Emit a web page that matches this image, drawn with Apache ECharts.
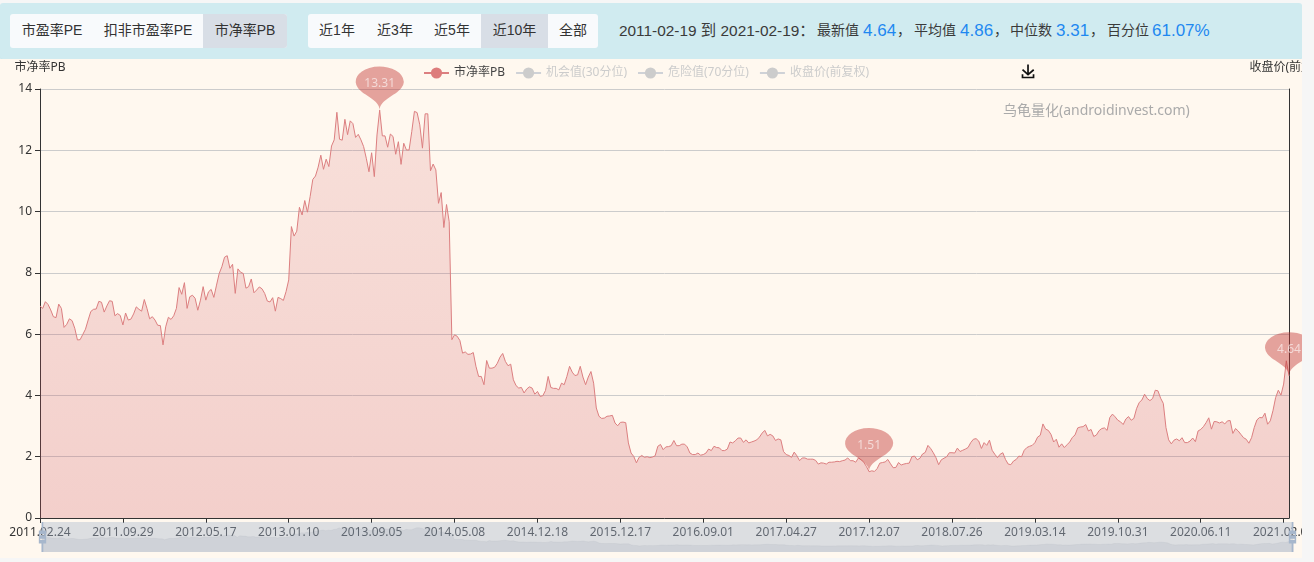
<!DOCTYPE html>
<html><head><meta charset="utf-8">
<script src="https://cdn.jsdelivr.net/npm/echarts@6/dist/echarts.min.js"></script>
<style>
html,body{margin:0;padding:0;background:#f6f6f6;width:1314px;height:562px;overflow:hidden;font-family:"Liberation Sans","Noto Sans CJK SC",sans-serif;color:#333}
#head{position:absolute;left:0;top:3px;width:1302px;height:56px;background:#d0ebf0;border-radius:3px;box-shadow:0 1px 0 #c4e6ec}
.grp{position:absolute;top:11px;height:34px;background:#f8fafc;border-radius:3px;overflow:hidden}
.grp span{position:absolute;top:0;height:34px;line-height:33px;font-size:14px;text-align:center;color:#333}
.grp span.on{background:#d8dee6}
.st{position:absolute;top:0;line-height:55px;font-size:14px;white-space:nowrap;color:#3a3a3a}
.st.d{font-size:15.4px}
.st.n{font-size:17px;color:#1e88f0}
#chart{position:absolute;left:0;top:59px;width:1302px;height:499px;background:#fff8ef}
</style></head><body>
<div id="head">
 <div class="grp" style="left:10px;width:277px">
  <span style="left:0;width:84px">市盈率PE</span><span style="left:80px;width:116px">扣非市盈率PE</span><span class="on" style="left:193px;width:84px">市净率PB</span>
 </div>
 <div class="grp" style="left:308px;width:290px">
  <span style="left:0;width:58px">近1年</span><span style="left:58px;width:58px">近3年</span><span style="left:115px;width:58px">近5年</span><span class="on" style="left:173px;width:67px">近10年</span><span style="left:240px;width:50px">全部</span>
 </div>
 <span class="st d" style="left:619px">2011-02-19 到 2021-02-19：</span>
 <span class="st" style="left:817px">最新值</span><span class="st n" style="left:863px">4.64</span><span class="st" style="left:897px">，</span>
 <span class="st" style="left:914px">平均值</span><span class="st n" style="left:960px">4.86</span><span class="st" style="left:994px">，</span>
 <span class="st" style="left:1010px">中位数</span><span class="st n" style="left:1056px">3.31</span><span class="st" style="left:1090px">，</span>
 <span class="st" style="left:1107px">百分位</span><span class="st n" style="left:1152px">61.07%</span>
</div>
<div id="chart"></div>
<script>
var tickLabels = ['2011.02.24','2011.09.29','2012.05.17','2013.01.10','2013.09.05','2014.05.08','2014.12.18','2015.12.17','2016.09.01','2017.04.27','2017.12.07','2018.07.26','2019.03.14','2019.10.31','2020.06.11','2021.02.04'];
var legendNames = ['市净率PB','机会值(30分位)','危险值(70分位)','收盘价(前复权)'];
var pbValues = [
6.92,6.84,7.06,6.97,6.79,6.57,6.54,6.98,6.84,6.22,6.32,6.5,6.44,6.19,5.81,5.82,5.99,6.16,6.46,6.74,
6.81,6.82,7.07,7.04,6.72,6.92,7.09,7.07,6.6,6.67,6.61,6.3,6.69,6.46,6.49,6.66,6.89,6.81,6.75,7.13,
6.84,6.5,6.57,6.46,6.29,6.28,5.65,6.24,6.55,6.48,6.6,6.84,7.52,7.3,7.68,6.84,7.22,7.27,7.17,6.78,
7.11,7.55,7.11,7.38,7.46,7.2,7.6,7.98,8.2,8.51,8.56,8.15,8.28,7.33,8.13,8.02,7.98,7.5,7.55,7.8,
7.35,7.44,7.54,7.48,7.33,7.08,7.05,7.19,6.75,7.2,7.16,7.1,7.39,7.77,9.51,9.2,9.36,10.14,9.89,10.36,
9.98,10.49,11.05,11.16,11.45,11.84,11.38,11.71,11.47,12.14,12.34,13.24,12.36,12.33,13.01,12.51,12.96,12.87,12.42,12.52,
12.34,12.12,11.74,11.3,11.92,11.14,12.5,13.31,12.47,12.47,12.1,12.53,12.45,11.87,12.28,11.54,12.23,12.01,12.01,12.61,
13.27,13.23,12.83,12.07,13.19,13.19,11.33,11.55,11.36,10.27,10.62,9.48,10.23,9.67,5.82,5.98,5.93,5.79,5.38,5.42,
5.34,5.35,5.4,4.95,4.62,4.62,4.35,5.14,4.89,4.89,4.92,5.05,5.25,5.37,5.11,4.97,5.02,4.51,4.32,4.24,
4.26,4.08,4.21,4.28,4.24,4.04,4.13,3.97,3.99,4.16,4.62,4.26,4.23,4.23,4.18,4.4,4.35,4.62,4.95,4.76,
4.65,4.67,4.95,4.6,4.35,4.6,4.78,4.4,3.59,3.32,3.25,3.26,3.32,3.33,3.35,3.1,3.01,3.12,3.13,3.11,
2.45,2.12,2.01,1.8,1.98,2.04,1.98,2.0,1.97,1.99,2.03,2.34,2.4,2.23,2.32,2.33,2.36,2.53,2.36,2.36,
2.41,2.41,2.32,2.12,2.07,2.07,2.12,2.05,2.07,2.12,2.25,2.2,2.34,2.3,2.29,2.2,2.2,2.25,2.48,2.45,
2.52,2.61,2.61,2.47,2.55,2.45,2.48,2.51,2.55,2.64,2.77,2.86,2.68,2.73,2.68,2.53,2.58,2.55,2.17,2.07,
2.04,1.98,2.15,2.03,1.87,1.96,1.96,1.92,1.92,1.92,1.88,1.76,1.8,1.79,1.76,1.82,1.82,1.83,1.85,1.84,
1.87,1.89,1.96,1.87,1.87,1.82,1.96,1.9,1.82,1.68,1.51,1.54,1.52,1.61,1.79,1.81,1.83,1.91,1.77,1.64,
1.65,1.81,1.73,1.76,1.78,1.79,2.0,2.02,1.9,1.95,2.09,2.14,2.37,2.27,2.13,1.97,1.74,1.9,1.95,2.0,
2.13,2.13,2.12,2.28,2.17,2.21,2.25,2.3,2.46,2.57,2.59,2.51,2.27,2.46,2.37,2.54,2.21,2.08,1.97,2.08,
2.13,1.91,1.76,1.74,1.86,1.91,2.02,2.0,2.21,2.3,2.34,2.37,2.46,2.64,2.7,3.07,2.9,2.86,2.73,2.48,
2.57,2.31,2.42,2.3,2.39,2.48,2.63,2.71,2.94,2.97,2.98,3.05,2.84,2.89,2.66,2.71,2.85,2.92,2.94,2.86,
3.28,3.39,3.3,3.19,3.14,3.05,3.23,3.31,3.19,3.25,3.57,3.77,3.85,4.04,3.9,3.83,3.9,4.17,4.15,3.91,
3.74,2.95,2.55,2.42,2.54,2.58,2.52,2.62,2.46,2.46,2.51,2.61,2.49,2.84,2.89,2.98,3.11,3.27,2.9,3.15,
3.14,3.1,3.14,3.07,3.17,3.18,2.76,2.92,2.84,2.73,2.62,2.57,2.44,2.62,2.95,3.2,3.28,3.27,3.42,3.06,
3.17,3.5,3.93,4.17,4.01,4.37,5.13,4.64
];
var tickStep = 31;
var categories = pbValues.map(function(_, i){ return i % tickStep === 0 ? tickLabels[i / tickStep] : ''; });
var font = '"Noto Sans","Noto Sans CJK SC",sans-serif';
var chart = echarts.init(document.getElementById('chart'), null, {renderer:'canvas'});
chart.setOption({
  animation:false,
  backgroundColor:'#fff8ef',
  textStyle:{fontFamily:font},
  title:{text:'乌龟量化(androidinvest.com)',left:998,top:40,textStyle:{color:'#aaa',fontSize:14,fontWeight:'normal',fontFamily:font}},
  legend:{data:legendNames,top:3,left:418,itemGap:10,itemWidth:25,itemHeight:14,textStyle:{color:'#444',fontSize:12,fontFamily:font},inactiveColor:'#ccc',
    selected:{'市净率PB':true,'机会值(30分位)':false,'危险值(70分位)':false,'收盘价(前复权)':false}},
  toolbox:{show:true,left:1005,top:-12,itemSize:13,feature:{saveAsImage:{title:'',iconStyle:{borderColor:'#111',borderWidth:1.7}}}},
  grid:{left:40,right:13,top:30,bottom:40,containLabel:false,outerBoundsMode:'none'},
  xAxis:{type:'category',boundaryGap:false,data:categories,
    axisLine:{onZero:false,lineStyle:{color:'#333'}},
    axisTick:{interval:tickStep-1,lineStyle:{color:'#333'}},
    axisLabel:{interval:tickStep-1,color:'#333',fontSize:12,margin:9,fontFamily:font,hideOverlap:false},
    splitLine:{show:false}},
  yAxis:[
    {type:'value',name:'市净率PB',min:0,max:14,interval:2,nameTextStyle:{color:'#333',fontSize:12,fontFamily:font},
     axisLine:{show:true,lineStyle:{color:'#333'}},axisTick:{show:true,lineStyle:{color:'#333'}},axisLabel:{color:'#333',fontSize:12,fontFamily:font},
     splitLine:{show:true,lineStyle:{color:'#ccc'}}},
    {type:'value',name:'收盘价(前复权)',position:'right',min:0,max:1,nameTextStyle:{color:'#333',fontSize:12,fontFamily:font},
     axisLine:{show:true,lineStyle:{color:'#333'}},axisTick:{show:false},axisLabel:{show:false},splitLine:{show:false}}
  ],
  dataZoom:[{type:'slider',xAxisIndex:0,start:0,end:100,left:39,right:11,bottom:6,height:30,
    backgroundColor:'rgba(47,69,84,0)',borderColor:'transparent',
    fillerColor:'rgba(167,183,204,0.4)',showDetail:false,moveHandleSize:0,brushSelect:false,
    handleIcon:'M8.2,13.6V3.9H6.3v9.7H3.1v14.9h3.3v9.7h1.8v-9.7h3.3V13.6H8.2z M9.7,24.4H4.8v-1.4h4.9V24.4z M9.7,19.1H4.8v-1.4h4.9V19.1z',
    handleSize:'100%',handleStyle:{color:'#a7b7cc',borderColor:'#a7b7cc',borderWidth:0},
    dataBackground:{lineStyle:{color:'#2f4554',opacity:0.12,width:0.5},areaStyle:{color:'#2f4554',opacity:0.1}},
    selectedDataBackground:{lineStyle:{color:'#2f4554',opacity:0.12,width:0.5},areaStyle:{color:'#2f4554',opacity:0.1}}
  }],
  series:[
    {name:legendNames[0],type:'line',data:pbValues,yAxisIndex:0,symbol:'circle',showSymbol:false,symbolSize:4,
     itemStyle:{color:'#dd7c7c'},lineStyle:{color:'#dc7f80',width:1},
     areaStyle:{opacity:1,color:new echarts.graphic.LinearGradient(0,0,0,1,[{offset:0,color:'rgba(205,77,89,0.14)'},{offset:1,color:'rgba(205,77,89,0.24)'}])},
     markPoint:{symbol:'pin',symbolSize:[80,50],itemStyle:{color:'rgba(194,53,49,0.44)'},
       label:{color:'rgba(255,255,255,0.6)',fontSize:12,fontFamily:font},
       data:[{type:'max',name:'max'},{type:'min',name:'min'},{name:'last',coord:[pbValues.length-1,pbValues[pbValues.length-1]],value:pbValues[pbValues.length-1]}]}},
    {name:legendNames[1],type:'line',data:[],symbol:'circle',itemStyle:{color:'#7fb77f'}},
    {name:legendNames[2],type:'line',data:[],symbol:'circle',itemStyle:{color:'#d9a14a'}},
    {name:legendNames[3],type:'line',data:[],symbol:'circle',yAxisIndex:1,itemStyle:{color:'#6a8fb5'}}
  ]
});
</script>
</body></html>
